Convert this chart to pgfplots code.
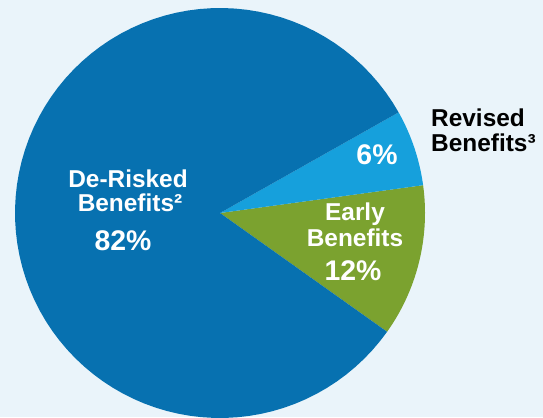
\documentclass[border=0pt]{standalone}
\usepackage{pgfplots}
\pgfplotsset{compat=1.18}
\usepackage{fontspec}
\setmainfont{Liberation Sans}
\definecolor{bg}{RGB}{234,244,250}
\definecolor{darkblue}{RGB}{7,113,176}
\definecolor{lightblue}{RGB}{22,160,220}
\definecolor{green}{RGB}{123,162,47}
% pie values (percent)
\def\vEarly{12}
\def\vRevised{6}
\def\vDeRisked{82}
\def\cx{220}\def\cy{204}\def\rr{205}
\newcommand{\slice}[3]{% start angle, value, colour
  \addplot[fill=#3, draw=none, domain={#1}:{#1+#2*3.6}, samples=90, variable=\t]
    ({\cx+\rr*cos(\t)},{\cy+\rr*sin(\t)}) -- (axis cs:\cx,\cy) -- cycle;}
\begin{document}
\begin{tikzpicture}
\begin{axis}[x=1bp, y=1bp, xmin=0, xmax=543, ymin=0, ymax=417,
  scale only axis, axis line style={draw=none}, ticks=none,
  axis background/.style={fill=bg}]
\slice{-35.4}{\vEarly}{green}
\slice{-35.4+\vEarly*3.6}{\vRevised}{lightblue}
\slice{-35.4+\vEarly*3.6+\vRevised*3.6}{\vDeRisked}{darkblue}
\begin{scope}[every node/.style={anchor=base, font=\bfseries\fontsize{24.5}{26}\selectfont, text=white, inner sep=0pt}]
\node at (axis cs:128,230) {De-Risked};
\node at (axis cs:130,206) {Benefits²};
\node[font=\bfseries\fontsize{28.5}{30}\selectfont] at (axis cs:123,167) {82\%};
\node[font=\bfseries\fontsize{28.5}{30}\selectfont] at (axis cs:377,253) {6\%};
\node at (axis cs:355,197) {Early};
\node at (axis cs:355,170.3) {Benefits};
\node[font=\bfseries\fontsize{28.5}{30}\selectfont] at (axis cs:353,137) {12\%};
\node[anchor=base west, text=black] at (axis cs:431,291) {Revised};
\node[anchor=base west, text=black] at (axis cs:431,265.5) {Benefits³};
\end{scope}
\end{axis}
\end{tikzpicture}
\end{document}
